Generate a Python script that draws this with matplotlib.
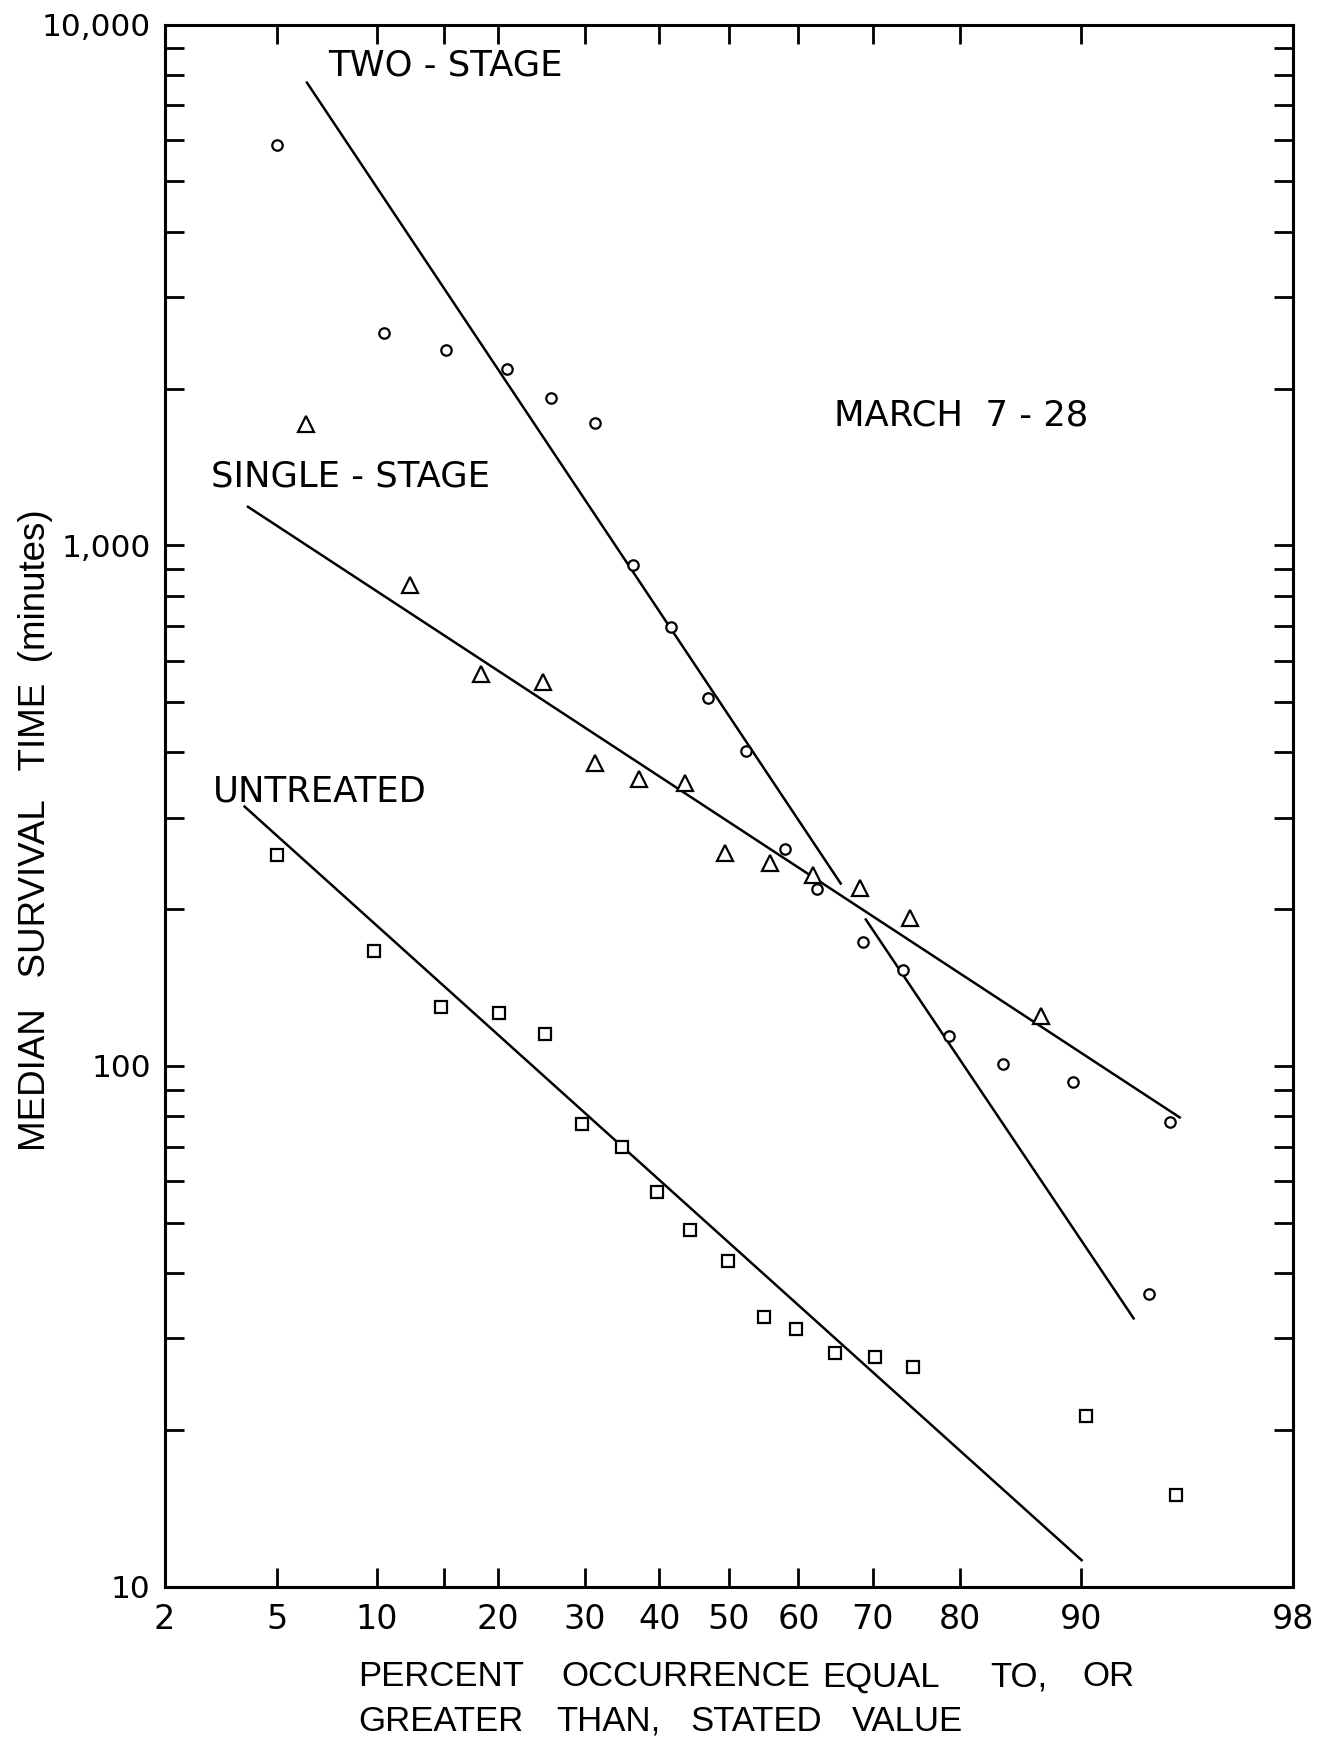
from statistics import NormalDist
import matplotlib
matplotlib.use('Agg')
import matplotlib.pyplot as plt
import numpy as np
from matplotlib.ticker import FixedLocator, FixedFormatter, NullLocator, NullFormatter, LogLocator

# percent occurrence (x) and median survival time in minutes (y)
two_stage_pct = [5.0, 10.5, 15.2, 21.0, 25.9, 31.3, 36.3, 41.6, 47.0, 52.5,
                 58.1, 62.6, 68.7, 73.7, 78.8, 84.1, 89.5, 93.7, 94.6]
two_stage_min = [5860, 2560, 2370, 2180, 1920, 1720, 915, 696, 509, 402,
                 261, 219, 173, 153, 114, 101, 93, 36.4, 78]

single_pct = [6.2, 12.3, 18.3, 24.9, 31.3, 37.2, 43.7, 49.4, 55.9, 62.0, 68.3, 74.5, 87.2]
single_min = [1707, 838, 566, 547, 381, 356, 349, 256, 245, 233, 220, 192, 125]

untreated_pct = [5.0, 9.8, 14.7, 20.1, 25.2, 29.7, 34.8, 39.7, 44.4, 49.9,
                 55.1, 59.7, 65.0, 70.3, 74.9, 90.3, 94.8]
untreated_min = [254, 166, 130, 126.5, 115, 77.5, 70, 57.2, 48.4, 42.2,
                 32.9, 31.2, 28.1, 27.6, 26.4, 21.3, 15.0]

# fitted lines, end points only
two_stage_fit_a_pct = [6.2, 65.9]
two_stage_fit_a_min = [7770, 223]
two_stage_fit_b_pct = [69.0, 93.0]
two_stage_fit_b_min = [192, 32.6]
single_fit_pct = [3.97, 95.0]
single_fit_min = [1189, 79.4]
untreated_fit_pct = [3.87, 90.1]
untreated_fit_min = [316, 11.2]

x_ticks = [2, 5, 10, 15, 20, 30, 40, 50, 60, 70, 80, 90, 98]
x_labels = ['2', '5', '10', '', '20', '30', '40', '50', '60', '70', '80', '90', '98']
y_ticks = [10, 100, 1000, 10000]
y_labels = ['10', '100', '1,000', '10,000']

_nd = NormalDist()


def _ppf(p):
    p = min(max(p / 100.0, 1e-9), 1 - 1e-9)
    return _nd.inv_cdf(p)


def _cdf(z):
    return _nd.cdf(z) * 100.0


# normal probability scale for the x axis
prob_forward = np.vectorize(_ppf, otypes=[float])
prob_inverse = np.vectorize(_cdf, otypes=[float])

fig = plt.figure(figsize=(13.32, 17.43), dpi=100)
ax = fig.add_axes([0.1236, 0.0897, 0.8472, 0.8962])

ax.set_xscale('function', functions=(prob_forward, prob_inverse))
ax.set_yscale('log')
ax.set_xlim(2, 98)
ax.set_ylim(10, 10000)

line_kw = dict(color='black', lw=1.8, solid_capstyle='butt')
ax.plot(two_stage_fit_a_pct, two_stage_fit_a_min, **line_kw)
ax.plot(two_stage_fit_b_pct, two_stage_fit_b_min, **line_kw)
ax.plot(single_fit_pct, single_fit_min, **line_kw)
ax.plot(untreated_fit_pct, untreated_fit_min, **line_kw)

mk = dict(ls='none', mfc='white', mec='black', mew=1.6, zorder=3)
ax.plot(two_stage_pct, two_stage_min, marker='o', ms=7.5, **mk)
ax.plot(single_pct, single_min, marker='^', ms=11, **mk)
ax.plot(untreated_pct, untreated_min, marker='s', ms=9, **mk)

ax.xaxis.set_major_locator(FixedLocator(x_ticks))
ax.xaxis.set_major_formatter(FixedFormatter(x_labels))
ax.xaxis.set_minor_locator(NullLocator())
ax.yaxis.set_major_locator(FixedLocator(y_ticks))
ax.yaxis.set_major_formatter(FixedFormatter(y_labels))
ax.yaxis.set_minor_locator(LogLocator(base=10, subs=np.arange(2, 10)))
ax.yaxis.set_minor_formatter(NullFormatter())

ax.tick_params(which='both', direction='in', top=True, right=True,
               length=14, width=2)
ax.tick_params(axis='x', pad=12)
ax.tick_params(axis='y', pad=10)
for lab in ax.get_xticklabels():
    lab.set_fontfamily('DejaVu Sans')
    lab.set_fontsize(24)
for lab in ax.get_yticklabels():
    lab.set_fontfamily('DejaVu Sans')
    lab.set_fontsize(22.5)
for sp in ax.spines.values():
    sp.set_linewidth(2.2)

label_kw = dict(transform=ax.transAxes, ha='left', va='center',
                fontsize=25.5, family='DejaVu Sans')
ax.text(0.145, 0.9735, 'TWO - STAGE', **label_kw)
ax.text(0.041, 0.711, 'SINGLE - STAGE', **label_kw)
ax.text(0.043, 0.509, 'UNTREATED', **label_kw)
ax.text(0.593, 0.750, 'MARCH  7 - 28', **label_kw)

fig.text(0.0263, 0.5238, 'MEDIAN   SURVIVAL   TIME  (minutes)', rotation=90,
         ha='center', va='center', fontsize=26.5, family='Liberation Sans')

# x axis caption, lettered word by word (left edge of each word in pixels)
caption_rows = [
    (0.0379, [('PERCENT', 358), ('OCCURRENCE', 561), ('EQUAL', 822), ('TO,', 990), ('OR', 1082)]),
    (0.0126, [('GREATER', 358), ('THAN,', 556), ('STATED', 690), ('VALUE', 852)]),
]
for y, words in caption_rows:
    for word, px in words:
        fig.text(px / 1332, y, word, ha='left', va='center',
                 fontsize=25, family='Liberation Sans')

fig.savefig('out.png', dpi=100)
